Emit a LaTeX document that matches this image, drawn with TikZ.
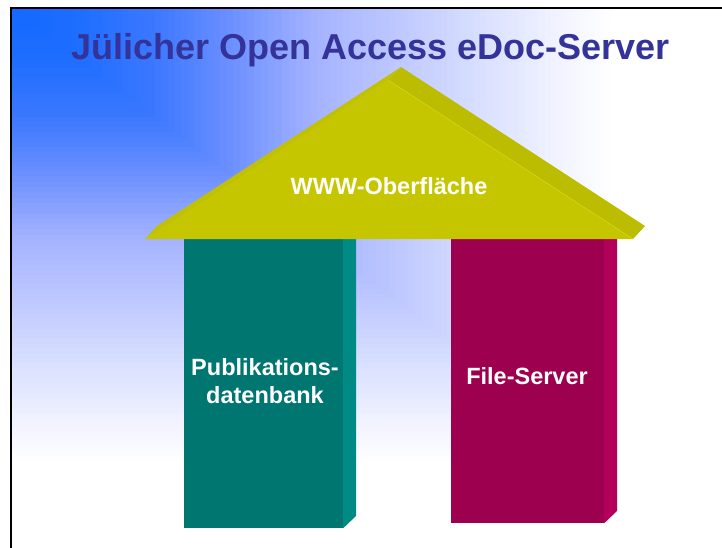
\documentclass[tikz,border=0pt]{standalone}
\usepackage{fontspec}
\setmainfont{Liberation Sans}
\definecolor{titleblue}{RGB}{51,51,153}
\definecolor{roofF}{RGB}{198,198,0}
\definecolor{roofL}{RGB}{193,193,0}
\definecolor{roofR}{RGB}{188,188,0}
\definecolor{roofLine}{RGB}{212,212,20}
\definecolor{tealF}{RGB}{0,118,112}
\definecolor{tealS}{RGB}{0,138,133}
\definecolor{crimF}{RGB}{156,0,78}
\definecolor{crimS}{RGB}{179,0,90}
\tikzset{
  lbl/.style={text=white, font=\bfseries\fontsize{23.5}{28}\selectfont, inner sep=0pt},
  pillar/.style={rectangle, inner sep=0pt, draw=none},
}
\begin{document}
\begin{tikzpicture}[x=1pt,y=-1pt]
\useasboundingbox (0,0) rectangle (722,548);
% background: rectangular gradient from the top-left corner
\fill[white] (11,8) rectangle (722,548);
\foreach \ta/\tb/\ra/\rb/\ga/\gb in {0.9/1/240/255/242/255, 0.77/0.9/215/240/222/242, 0.64/0.77/190/215/200/222, 0.51/0.64/165/190/180/200, 0.37/0.51/110/165/145/180, 0.24/0.37/60/110/120/145, 0.11/0.24/30/60/110/120, 0/0.11/20/30/105/110} {
  \foreach \k in {0,...,11} {
    \pgfmathsetmacro\tcur{\tb-(\tb-\ta)*\k/12}
    \pgfmathtruncatemacro\rcur{\rb-(\rb-\ra)*(\k+0.5)/12}
    \pgfmathtruncatemacro\gcur{\gb-(\gb-\ga)*(\k+0.5)/12}
    \definecolor{tmpc}{RGB}{\rcur,\gcur,255}
    \fill[tmpc] (11,8) rectangle ({11+600*\tcur},{8+455*\tcur});
  }
}
\draw[line width=2pt] (11,548) -- (11,8) -- (722,8);
% title
\node[text=titleblue, font=\bfseries\fontsize{36}{40}\selectfont, inner sep=0pt, anchor=base] (title) at (370.5,60) {Jülicher Open Access eDoc-Server};
% pillars
\node[pillar, fill=tealF, minimum width=159pt, minimum height=289pt] (pub) at (263.5,383.5) {};
\fill[tealS] (pub.north east) -- ++(13,0) -- ++(0,277) -- (pub.south east) -- cycle;
\node[pillar, fill=crimF, minimum width=153pt, minimum height=284pt] (fs) at (527.5,381) {};
\fill[crimS] (fs.north east) -- ++(13,0) -- ++(0,272) -- (fs.south east) -- cycle;
% roof
\coordinate (rl) at (145,239);
\coordinate (ra) at (388,80);
\coordinate (rr) at (633,239);
\coordinate (bl) at (157,226);
\coordinate (ba) at (401,67);
\coordinate (br) at (645,226);
\fill[roofL] (rl) -- (bl) -- (ba) -- (ra) -- cycle;
\fill[roofR] (ra) -- (ba) -- (br) -- (rr) -- cycle;
\fill[roofF] (rl) -- (ra) -- (rr) -- cycle;
\draw[roofLine, line width=0.6pt] (ra) -- (rr);
% labels
\node[lbl, anchor=base] (www) at (389,194) {WWW-Oberfläche};
\node[lbl, anchor=base] (pub1) at (265,375) {Publikations-};
\node[lbl, anchor=base] (pub2) at (265,403) {datenbank};
\node[lbl, anchor=base] (fstxt) at (527,384) {File-Server};
\end{tikzpicture}
\end{document}
